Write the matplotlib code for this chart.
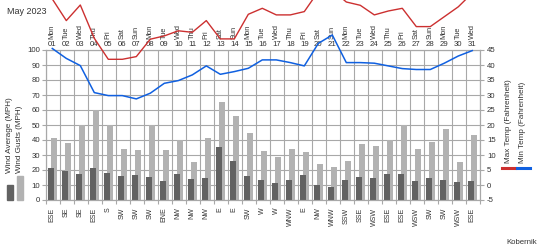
import matplotlib
matplotlib.use("Agg")
import matplotlib.pyplot as plt
from matplotlib.patches import Rectangle
from matplotlib.lines import Line2D
from matplotlib.transforms import blended_transform_factory

plt.rcParams['font.family'] = ['Liberation Sans', 'DejaVu Sans']

title = "May 2023"
days = list(range(1, 32))
day_names = ["Mon", "Tue", "Wed", "Thu", "Fri", "Sat", "Sun"] * 5
day_names = day_names[:31]
directions = ["ESE", "SE", "SE", "ESE", "S", "SW", "SW", "SW", "ENE", "NW", "NW", "NW", "E", "E",
              "SW", "W", "W", "WNW", "E", "NW", "WNW", "SSW", "SSE", "WSW", "ESE", "ESE",
              "WSW", "SW", "SW", "WSW", "ESE"]
wind_avg = [21.6, 19.6, 17.6, 21.6, 18.2, 16.2, 16.9, 15.6, 12.9, 17.3, 14.2, 14.9, 35.3, 26.0, 16.0,
            13.3, 11.3, 13.3, 16.7, 10.0, 8.7, 13.3, 15.3, 14.7, 17.3, 17.3, 12.7, 14.7, 13.3, 12.0, 12.7]
wind_gust = [41.3, 38.0, 50.0, 60.0, 50.0, 34.2, 33.6, 50.0, 33.3, 40.0, 25.3, 41.3, 65.3, 56.0, 44.7,
             32.7, 28.7, 34.0, 32.0, 24.0, 22.0, 26.0, 37.3, 36.0, 40.0, 50.0, 34.0, 39.0, 47.3, 25.3, 43.3]
max_temp = [62.0, 54.8, 60.0, 48.9, 41.9, 41.9, 42.8, 48.6, 49.7, 51.4, 50.9, 54.8, 48.7, 48.7, 56.9,
            58.9, 56.7, 56.7, 57.8, 64.5, 65.0, 61.0, 59.9, 56.7, 58.0, 58.9, 52.8, 52.8, 56.1, 59.4, 64.0]
min_temp = [45.5, 42.2, 39.8, 30.8, 29.8, 29.8, 28.7, 30.6, 33.9, 34.8, 36.7, 39.7, 36.9, 37.8, 38.9,
            41.7, 41.7, 40.8, 39.7, 47.2, 50.0, 40.8, 40.8, 40.6, 39.7, 38.8, 38.5, 38.5, 40.6, 43.0, 44.8]
wind_ticks = list(range(0, 101, 10))
temp_ticks = list(range(-5, 46, 5))

W, H = 540, 250
fig = plt.figure(figsize=(W / 100, H / 100), dpi=100)
ax = fig.add_axes([46 / W, 1 - 200 / H, 434 / W, 150 / H])
ax2 = ax.twinx()

txt = "#333333"
gridc = "#a8a8a8"
dark = "#626262"
light = "#b2b2b2"
red = "#cc3030"
blue = "#1060e0"
fs = 5.6

ax.set_xlim(0.5, 31.5)
ax.set_ylim(0, 100)
ax2.set_ylim(-5, 45)

ax.set_xticks([d + 0.5 for d in range(0, 32)])
ax.set_xticklabels([])
ax.set_yticks(wind_ticks)
ax.set_yticklabels([str(t) for t in wind_ticks], fontsize=fs, color=txt)
ax2.set_yticks(temp_ticks)
ax2.set_yticklabels([str(t) for t in temp_ticks], fontsize=fs, color=txt)
ax.grid(True, color=gridc, lw=0.8)
ax.set_axisbelow(True)
ax.tick_params(axis='both', length=3, color=gridc, width=0.8, pad=1)
ax2.tick_params(axis='y', length=3, color=gridc, width=0.8, pad=2)
for a in (ax, ax2):
    for s in a.spines.values():
        s.set_color(gridc)
        s.set_linewidth(0.8)

xd = [d - 0.17 for d in days]
xg = [d + 0.05 for d in days]
ax.bar(xg, wind_gust, width=0.43, color=light, zorder=2)
ax.bar(xd, wind_avg, width=0.43, color=dark, zorder=3)

xl = [d - 0.05 for d in days]
ax2.plot(xl, max_temp, color=red, lw=1.0, clip_on=False, zorder=5)
ax2.plot(xl, min_temp, color=blue, lw=1.1, clip_on=False, zorder=5)

tr = blended_transform_factory(ax.transData, ax.transAxes)
for d, dn, dr in zip(days, day_names, directions):
    ax.text(d - 0.05, 1.037, f"{d:02d}", transform=tr, ha='center', va='center',
            fontsize=fs, color=txt)
    ax.text(d - 0.05, 1.073, dn, transform=tr, ha='center', va='bottom', rotation=90,
            fontsize=fs - 0.3, color=txt)
    ax.text(d - 0.05, -0.05, dr, transform=tr, ha='center', va='top', rotation=90,
            fontsize=fs - 0.6, color=txt)

fig.text(7 / W, 1 - 12 / H, title, ha='left', va='center', fontsize=6.5, color=txt)
fig.text(537 / W, 1 - 243 / H, "Kobernik", ha='right', va='center', fontsize=fs, color=txt)

fig.text(10 / W, 1 - 173 / H, "Wind Average (MPH)", rotation=90, ha='center', va='bottom',
         fontsize=fs + 0.3, color=txt)
fig.text(20 / W, 1 - 173 / H, "Wind Gusts (MPH)", rotation=90, ha='center', va='bottom',
         fontsize=fs + 0.3, color=txt)
fig.patches.append(Rectangle((7 / W, 1 - 200 / H), 6 / W, 15 / H, transform=fig.transFigure,
                             color=dark, figure=fig))
fig.patches.append(Rectangle((17 / W, 1 - 200 / H), 6 / W, 24 / H, transform=fig.transFigure,
                             color=light, figure=fig))

fig.text(508 / W, 1 - 163 / H, "Max Temp (Fahrenheit)", rotation=90, ha='center', va='bottom',
         fontsize=fs + 0.3, color=txt)
fig.text(523 / W, 1 - 163 / H, "Min Temp (Fahrenheit)", rotation=90, ha='center', va='bottom',
         fontsize=fs + 0.3, color=txt)
fig.lines.append(Line2D([502 / W, 515 / W], [1 - 168 / H, 1 - 168 / H], transform=fig.transFigure,
                        color=red, lw=2.2, figure=fig))
fig.lines.append(Line2D([517 / W, 530 / W], [1 - 168 / H, 1 - 168 / H], transform=fig.transFigure,
                        color=blue, lw=2.2, figure=fig))

fig.savefig("out.png", dpi=100)
